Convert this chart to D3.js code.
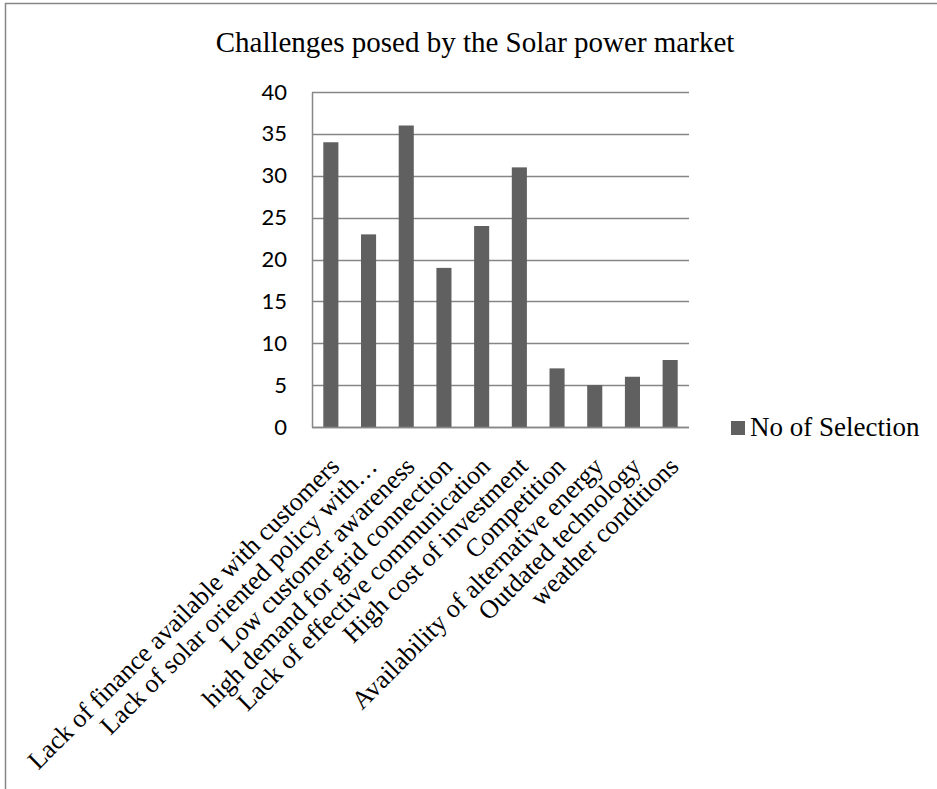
<!DOCTYPE html>
<html>
<head>
<meta charset="utf-8">
<script src="https://cdn.jsdelivr.net/npm/d3@7"></script>
<style>
  body { margin: 0; background: #fff; }
  svg { display: block; }
</style>
</head>
<body>
<div id="chart"></div>
<script>
// chart data
const categories = [
  "Lack of finance available with customers",
  "Lack of solar oriented policy with\u2026",
  "Low customer awareness",
  "high demand for grid connection",
  "Lack of effective communication",
  "High cost of investment",
  "Competition",
  "Availability of alternative energy",
  "Outdated technology",
  "weather conditions"
];
const selections = [34, 23, 36, 19, 24, 31, 7, 5, 6, 8];
const yTicks = [0, 5, 10, 15, 20, 25, 30, 35, 40];
const seriesName = "No of Selection";
const chartTitle = "Challenges posed by the Solar power market";

const width = 937, height = 789;
const margin = {top: 92, right: 248, bottom: 362, left: 312}; // plot box inside svg
const plotW = width - margin.left - margin.right;
const plotH = height - margin.top - margin.bottom;

const serif = "'Liberation Serif', 'Times New Roman', serif";

const svg = d3.select("#chart").append("svg")
  .attr("width", width)
  .attr("height", height);

// outer chart border (runs off the right and bottom of the picture)
svg.append("rect")
  .attr("x", 5.5).attr("y", 3.5)
  .attr("width", width + 20).attr("height", height + 20)
  .attr("fill", "none")
  .attr("stroke", "#868686")
  .attr("stroke-width", 1.5);

// title
svg.append("text")
  .attr("x", 475).attr("y", 52)
  .attr("text-anchor", "middle")
  .style("font-family", serif)
  .style("font-size", "29px")
  .text(chartTitle);

const x = d3.scaleBand()
  .domain(categories)
  .range([0, plotW])
  .paddingInner(0.6)
  .paddingOuter(0.3);

const y = d3.scaleLinear()
  .domain([0, 40])
  .range([plotH, 0]);

const g = svg.append("g")
  .attr("transform", "translate(" + margin.left + "," + margin.top + ")");

// horizontal gridlines
g.append("g")
  .selectAll("line")
  .data(yTicks)
  .join("line")
  .attr("x1", 0).attr("x2", plotW)
  .attr("y1", d => Math.round(y(d)) + 0.5)
  .attr("y2", d => Math.round(y(d)) + 0.5)
  .attr("stroke", "#868686")
  .attr("stroke-width", 1.5);

// y axis
const yAxis = d3.axisLeft(y)
  .tickValues(yTicks)
  .tickSize(0)
  .tickPadding(25);

const yG = g.append("g").call(yAxis);
yG.select(".domain").attr("stroke", "#868686").attr("stroke-width", 1.5);
yG.selectAll("text")
  .style("font-family", "Lato, 'Open Sans', sans-serif")
  .style("font-size", "22px")
  .attr("fill", "#000");

// bars
g.append("g")
  .selectAll("rect")
  .data(selections)
  .join("rect")
  .attr("x", (d, i) => x(categories[i]))
  .attr("y", d => y(d))
  .attr("width", x.bandwidth())
  .attr("height", d => plotH - y(d))
  .attr("fill", "#606060");

// x axis line
g.append("line")
  .attr("x1", 0).attr("x2", plotW)
  .attr("y1", plotH + 0.5).attr("y2", plotH + 0.5)
  .attr("stroke", "#868686")
  .attr("stroke-width", 1.5);

// rotated category labels
g.append("g")
  .selectAll("text")
  .data(categories)
  .join("text")
  .attr("text-anchor", "end")
  .attr("transform", d => {
    const cx = x(d) + x.bandwidth() / 2 + 10;
    return "translate(" + cx + "," + (plotH + 41) + ") rotate(-45)";
  })
  .style("font-family", serif)
  .style("font-size", "26px")
  .text(d => d);

// legend
const legend = svg.append("g")
  .attr("transform", "translate(731,421)");
legend.append("rect")
  .attr("width", 14).attr("height", 14)
  .attr("fill", "#606060");
legend.append("text")
  .attr("x", 19).attr("y", 15)
  .style("font-family", serif)
  .style("font-size", "27px")
  .text(seriesName);
</script>
</body>
</html>
